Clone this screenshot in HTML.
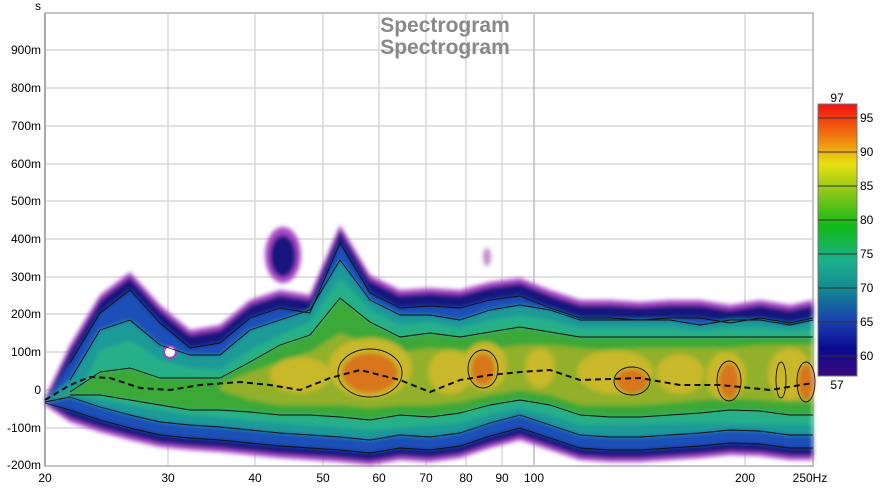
<!DOCTYPE html>
<html><head><meta charset="utf-8"><style>
body{margin:0;background:#fff;}
svg{display:block;font-family:"Liberation Sans",sans-serif;}
</style></head><body>
<svg width="890" height="489" viewBox="0 0 890 489" xmlns="http://www.w3.org/2000/svg">
<defs>
<filter id="bl" x="-5%" y="-5%" width="110%" height="110%"><feGaussianBlur stdDeviation="2.2"/></filter>
<linearGradient id="cb" x1="0" y1="1" x2="0" y2="0">
<stop offset="0" stop-color="#3a0a7a"/><stop offset="0.1" stop-color="#0a0a90"/><stop offset="0.2" stop-color="#1a3fb0"/>
<stop offset="0.32" stop-color="#12888f"/><stop offset="0.42" stop-color="#1cb090"/><stop offset="0.55" stop-color="#10b818"/>
<stop offset="0.68" stop-color="#90c818"/><stop offset="0.78" stop-color="#e8e010"/><stop offset="0.88" stop-color="#f07a10"/><stop offset="1" stop-color="#f01010"/>
</linearGradient>
</defs>
<rect width="890" height="489" fill="#fff"/>
<g stroke="#d8d8d8" stroke-width="1.5">
<line x1="45" x2="813" y1="50" y2="50"/><line x1="45" x2="813" y1="88" y2="88"/><line x1="45" x2="813" y1="126" y2="126"/>
<line x1="45" x2="813" y1="164" y2="164"/><line x1="45" x2="813" y1="201" y2="201"/><line x1="45" x2="813" y1="239" y2="239"/>
<line x1="45" x2="813" y1="277" y2="277"/><line x1="45" x2="813" y1="314" y2="314"/><line x1="45" x2="813" y1="352" y2="352"/>
<line x1="45" x2="813" y1="390" y2="390"/><line x1="45" x2="813" y1="428" y2="428"/>
<line x1="168" x2="168" y1="13" y2="466"/><line x1="255" x2="255" y1="13" y2="466"/><line x1="323" x2="323" y1="13" y2="466"/>
<line x1="379" x2="379" y1="13" y2="466"/><line x1="426" x2="426" y1="13" y2="466"/><line x1="466" x2="466" y1="13" y2="466"/>
<line x1="502" x2="502" y1="13" y2="466"/><line x1="745" x2="745" y1="13" y2="466"/>
</g>
<line x1="534" x2="534" y1="13" y2="466" stroke="#bcbcbc" stroke-width="1.5"/>
<rect x="45" y="13" width="768" height="453" fill="none" stroke="#c4c4c4" stroke-width="2"/>
<line x1="45" x2="45" y1="13" y2="466" stroke="#aaa" stroke-width="2"/>
<text x="445" y="32" text-anchor="middle" font-size="21" font-weight="bold" fill="#888">Spectrogram</text>
<text x="445" y="54" text-anchor="middle" font-size="21" font-weight="bold" fill="#888">Spectrogram</text>
<g font-size="12" fill="#000" text-anchor="end">
<text x="41" y="10">s</text>
<text x="41" y="54">900m</text><text x="41" y="92">800m</text><text x="41" y="130">700m</text><text x="41" y="168">600m</text>
<text x="41" y="205">500m</text><text x="41" y="243">400m</text><text x="41" y="281">300m</text><text x="41" y="318">200m</text>
<text x="41" y="356">100m</text><text x="41" y="394">0</text><text x="41" y="432">-100m</text><text x="41" y="469">-200m</text>
</g>
<g font-size="12" fill="#000" text-anchor="middle">
<text x="45" y="482">20</text><text x="168" y="482">30</text><text x="255" y="482">40</text><text x="323" y="482">50</text>
<text x="379" y="482">60</text><text x="426" y="482">70</text><text x="466" y="482">80</text><text x="502" y="482">90</text>
<text x="534" y="482">100</text><text x="745" y="482">200</text><text x="810" y="482">250Hz</text>
</g>
<g filter="url(#bl)">
<path fill="#a848c8" d="M45,398 L70,345 100,295 130,272 160,305 190,330 220,325 250,300 280,290 310,295 340,225 370,275 400,290 430,288 460,290 490,282 520,278 550,290 580,300 610,300 640,302 670,300 700,300 730,305 760,300 790,305 813,300 L813,460 790,460 760,456 730,455 700,458 670,460 640,462 610,462 580,460 550,450 520,440 490,448 460,458 430,462 400,460 370,465 340,462 310,460 280,458 250,455 220,452 190,450 160,447 130,440 100,432 70,422 45,405Z"/>
<path fill="#12127e" d="M45,401 L70,350 100,300 130,277 160,310 190,335 220,330 250,305 280,295 310,300 340,230 370,280 400,295 430,293 460,295 490,287 520,283 550,295 580,305 610,305 640,307 670,305 700,305 730,310 760,305 790,310 813,305 L813,456 790,456 760,452 730,451 700,454 670,456 640,458 610,458 580,456 550,446 520,436 490,444 460,454 430,458 400,456 370,461 340,458 310,456 280,454 250,451 220,448 190,446 160,443 130,436 100,428 70,418 45,403Z"/>
<path fill="#1f50b8" d="M45,402 L70,363 100,313 130,290 160,323 190,348 220,343 250,318 280,308 310,313 340,243 370,293 400,308 430,306 460,308 490,300 520,296 550,308 580,318 610,318 640,320 670,318 700,318 730,323 760,318 790,323 813,318 L813,448 790,448 760,444 730,443 700,446 670,448 640,450 610,450 580,448 550,438 520,428 490,436 460,446 430,450 400,448 370,453 340,450 310,448 280,446 250,443 220,440 190,438 160,435 130,428 100,420 70,410 45,403Z"/>
<path fill="#1a9a98" d="M45,401 L70,380 100,330 130,320 160,345 190,355 220,355 250,330 280,320 310,310 340,260 370,300 400,315 430,315 460,320 490,310 520,305 550,310 580,320 610,320 640,320 670,320 700,325 730,320 760,320 790,325 813,320 L813,435 790,435 760,431 730,430 700,433 670,435 640,437 610,437 580,435 550,425 520,415 490,423 460,433 430,437 400,435 370,440 340,437 310,435 280,433 250,430 220,427 190,425 160,422 130,415 100,407 70,397 45,402Z"/>
<path fill="#28b08a" d="M80,390 L100,350 130,340 160,360 190,368 220,370 250,350 280,335 310,322 340,278 370,310 400,325 430,322 460,328 490,320 520,315 550,320 580,328 610,328 640,328 670,328 700,330 730,328 760,328 790,330 813,328 L813,425 700,423 580,425 550,415 520,408 490,414 460,423 370,430 280,423 190,415 130,405 80,395Z"/>
<path fill="#3aa838" d="M45,401 L70,392 100,372 130,368 160,378 190,378 220,378 250,362 280,345 310,335 340,298 370,322 400,337 430,333 460,337 490,332 520,327 550,332 580,337 610,337 640,337 670,337 700,337 730,337 760,337 790,337 813,337 L813,415 790,415 760,411 730,410 700,413 670,415 640,417 610,417 580,415 550,405 520,400 490,405 460,413 430,417 400,415 370,420 340,417 310,415 280,415 250,412 220,410 190,410 160,405 130,400 100,395 70,395 45,401Z"/>
<path fill="#92b02a" d="M220,385 L250,372 280,362 310,352 340,333 370,345 400,352 430,348 460,350 490,350 520,345 550,345 580,348 610,350 640,348 670,348 700,348 730,348 760,345 790,345 813,345 L813,402 790,402 760,400 730,398 700,400 670,403 640,405 610,405 580,405 550,395 520,390 490,395 460,402 430,405 400,405 370,408 340,405 310,405 280,405 250,400 220,390Z"/>
<g fill="#c8b82a">
<ellipse cx="300" cy="375" rx="30" ry="18"/><ellipse cx="370" cy="368" rx="42" ry="30"/><ellipse cx="450" cy="372" rx="22" ry="22"/>
<ellipse cx="485" cy="366" rx="22" ry="24"/><ellipse cx="540" cy="368" rx="15" ry="20"/><ellipse cx="615" cy="372" rx="38" ry="22"/>
<ellipse cx="680" cy="374" rx="24" ry="20"/><ellipse cx="726" cy="376" rx="20" ry="24"/><ellipse cx="790" cy="374" rx="22" ry="26"/>
</g>
<g fill="#d8761c">
<ellipse cx="370" cy="373" rx="28" ry="20"/><ellipse cx="483" cy="369" rx="12" ry="16"/><ellipse cx="632" cy="381" rx="16" ry="12"/>
<ellipse cx="729" cy="381" rx="10" ry="18"/><ellipse cx="806" cy="382" rx="8" ry="18"/>
</g>
<ellipse cx="283" cy="255" rx="18" ry="28" fill="#a848c8"/>
<ellipse cx="283" cy="256" rx="13" ry="21" fill="#12127e"/>
<ellipse cx="487" cy="257" rx="4" ry="9" fill="#c090c8"/>
</g>
<circle cx="170" cy="352" r="6" fill="#fff" stroke="#a040c0" stroke-width="2"/>
<g fill="none" stroke="#111" stroke-width="0.9" stroke-linejoin="round">
<polyline points="70,363 100,313 130,290 160,323 190,348 220,343 250,318 280,308 310,313 340,243 370,293 400,308 430,306 460,308 490,300 520,296 550,308 580,318 610,318 640,320 670,318 700,318 730,323 760,318 790,323 813,318"/>
<polyline points="70,380 100,330 130,320 160,345 190,355 220,355 250,330 280,320 310,310 340,260 370,300 400,315 430,315 460,320 490,310 520,305 550,310 580,320 610,320 640,320 670,320 700,325 730,320 760,320 790,325 813,320"/>
<polyline points="70,392 100,372 130,368 160,378 190,378 220,378 250,362 280,345 310,335 340,298 370,322 400,337 430,333 460,337 490,332 520,327 550,332 580,337 610,337 640,337 670,337 700,337 730,337 760,337 790,337 813,337"/>
<polyline points="45,403 70,410 100,420 130,428 160,435 190,438 220,440 250,443 280,446 310,448 340,450 370,453 400,448 430,450 460,446 490,436 520,428 550,438 580,448 610,450 640,450 670,448 700,446 730,443 760,444 790,448 813,448"/>
<polyline points="45,402 70,397 100,407 130,415 160,422 190,425 220,427 250,430 280,433 310,435 340,437 370,440 400,435 430,437 460,433 490,423 520,415 550,425 580,435 610,437 640,437 670,435 700,433 730,430 760,431 790,435 813,435"/>
<polyline points="70,395 100,395 130,400 160,405 190,410 220,410 250,412 280,415 310,415 340,417 370,420 400,415 430,417 460,413 490,405 520,400 550,405 580,415 610,417 640,417 670,415 700,413 730,410 760,411 790,415 813,415"/>
<ellipse cx="370" cy="373" rx="32" ry="24"/><ellipse cx="483" cy="369" rx="15" ry="19"/><ellipse cx="632" cy="381" rx="18" ry="14"/>
<ellipse cx="729" cy="381" rx="12" ry="20"/><ellipse cx="781" cy="380" rx="5" ry="18"/><ellipse cx="806" cy="382" rx="9" ry="20"/>
</g>
<polyline fill="none" stroke="#111" stroke-width="2" stroke-dasharray="6,4" points="45,400 70,385 90,377 110,378 140,388 170,390 200,385 240,382 270,385 300,390 330,378 360,370 400,380 430,392 460,380 490,375 520,372 550,370 580,380 640,378 680,385 720,385 770,390 813,383"/>
<rect x="818" y="104" width="39" height="272" fill="url(#cb)" stroke="#777"/>
<g stroke="#333" stroke-width="1">
<line x1="818" x2="857" y1="118" y2="118"/><line x1="818" x2="857" y1="152" y2="152"/><line x1="818" x2="857" y1="186" y2="186"/>
<line x1="818" x2="857" y1="220" y2="220"/><line x1="818" x2="857" y1="254" y2="254"/><line x1="818" x2="857" y1="288" y2="288"/>
<line x1="818" x2="857" y1="322" y2="322"/><line x1="818" x2="857" y1="356" y2="356"/>
</g>
<g font-size="12" fill="#000">
<text x="837" y="102" text-anchor="middle">97</text><text x="837" y="389" text-anchor="middle">57</text>
<text x="860" y="122">95</text><text x="860" y="156">90</text><text x="860" y="190">85</text><text x="860" y="224">80</text>
<text x="860" y="258">75</text><text x="860" y="292">70</text><text x="860" y="326">65</text><text x="860" y="360">60</text>
</g>
</svg>
</body></html>
